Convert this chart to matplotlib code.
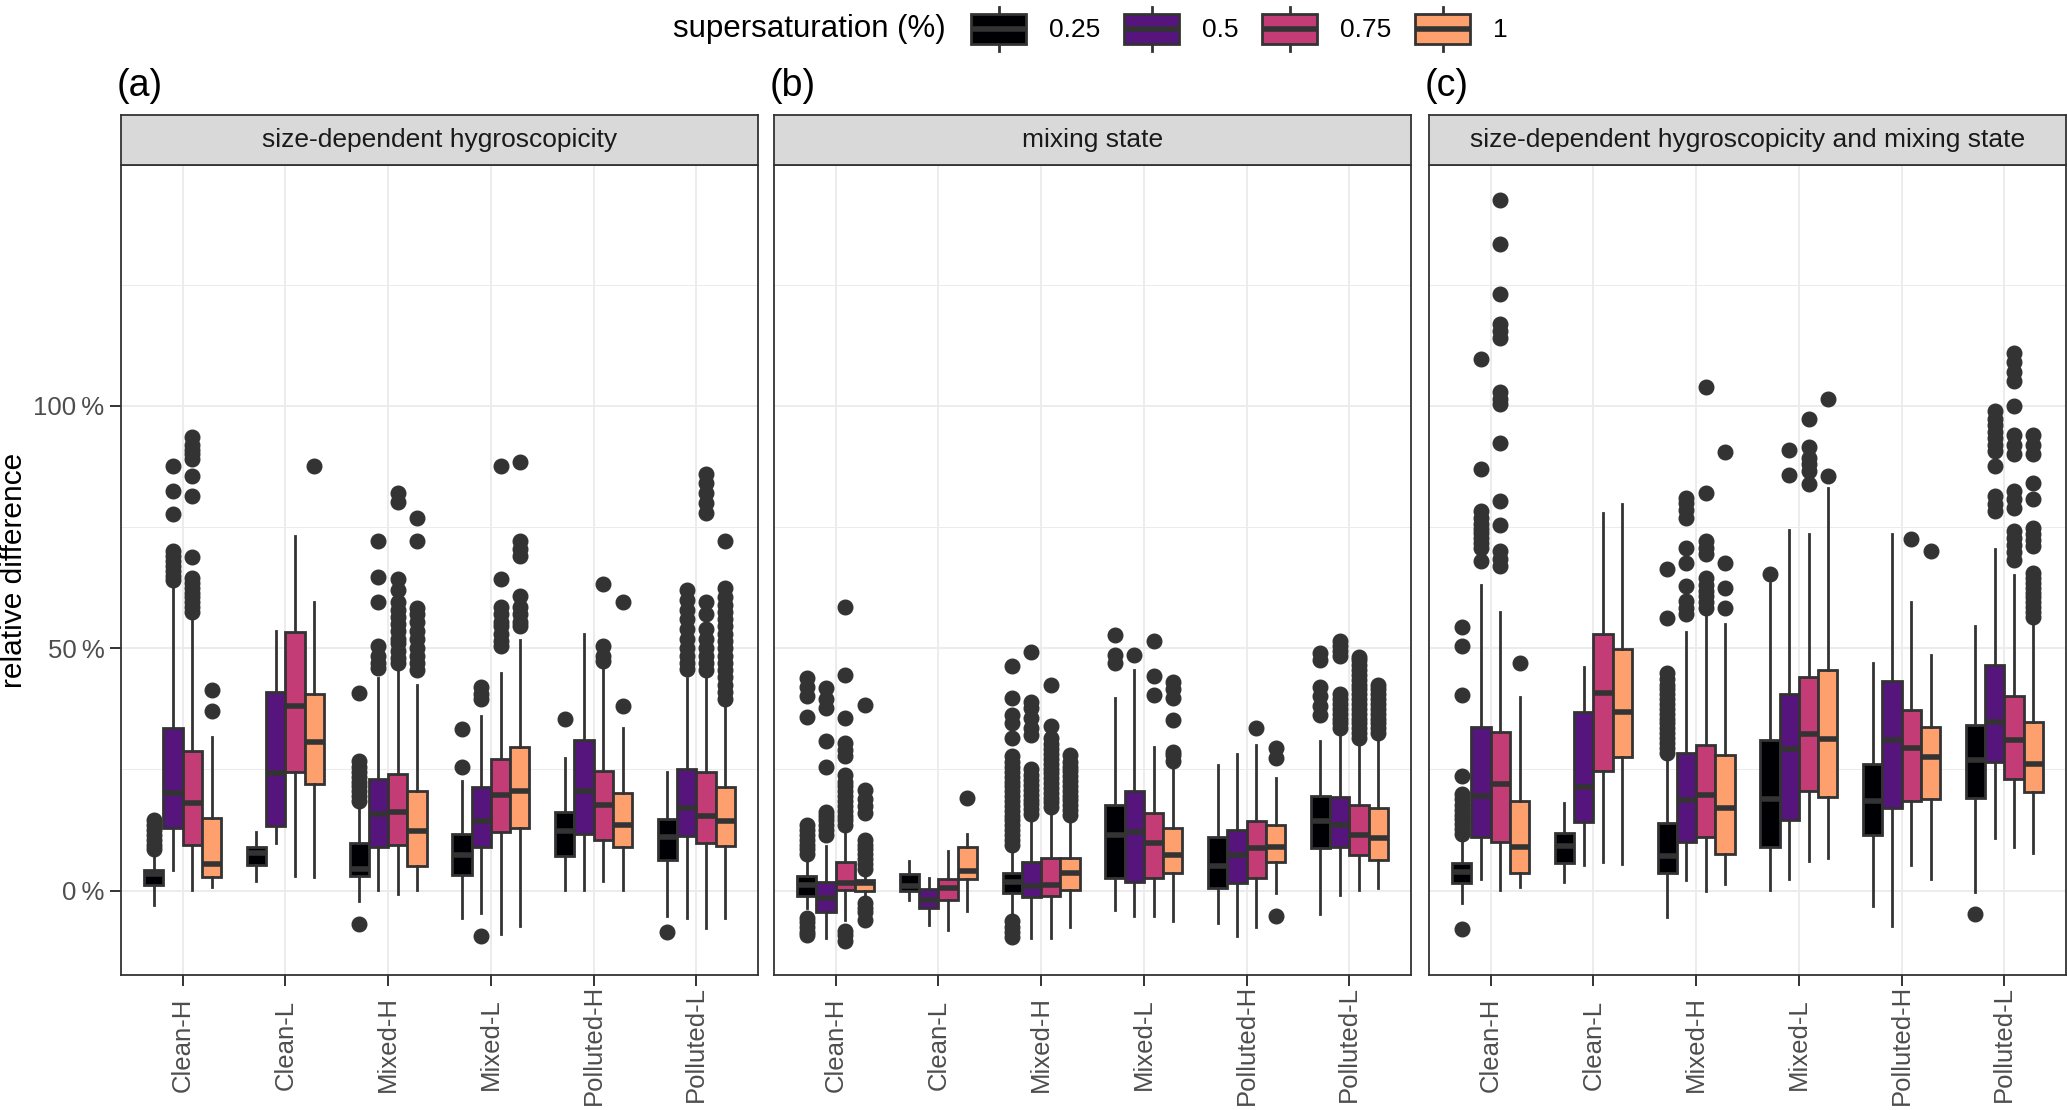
import matplotlib
matplotlib.use("Agg")
import matplotlib.pyplot as plt
from matplotlib.patches import Rectangle, Patch
from matplotlib.lines import Line2D
from matplotlib.legend_handler import HandlerBase

plt.rcParams['font.family'] = ['Liberation Sans', 'DejaVu Sans']

# categories and fill levels
categories = ['Clean-H', 'Clean-L', 'Mixed-H', 'Mixed-L', 'Polluted-H', 'Polluted-L']
supersat = ['0.25', '0.5', '0.75', '1']
colors = ['#000004', '#56157D', '#C43C75', '#FEA06D']
panel_titles = ['size-dependent hygroscopicity', 'mixing state',
                'size-dependent hygroscopicity and mixing state']
panel_tags = ['(a)', '(b)', '(c)']

# box statistics (%), rows = categories, columns = supersaturation
# ---- (a) size-dependent hygroscopicity
a_lo = [[-3.0, 4.3, 0.2, 0.8], [1.9, 9.8, 3.1, 2.8], [-2.2, 0.2, -0.6, 0.2],
        [-5.7, -4.7, -8.9, -7.3], [0.2, 0.2, 1.9, 0.2], [-5.2, -5.7, -7.7, -5.7]]
a_q1 = [[1.1, 12.9, 9.4, 2.8], [5.3, 13.4, 24.4, 22.0], [3.1, 9.0, 9.4, 5.0],
        [3.3, 9.0, 12.0, 12.9], [7.2, 11.6, 10.4, 9.0], [6.3, 11.2, 9.8, 9.2]]
a_med = [[3.5, 20.2, 18.0, 5.5], [7.8, 24.2, 38.1, 30.7], [4.5, 15.9, 16.3, 12.4],
         [7.4, 14.3, 19.8, 20.6], [12.4, 20.6, 17.6, 13.5], [11.0, 17.1, 15.5, 14.3]]
a_q3 = [[4.3, 33.6, 28.9, 14.9], [9.0, 40.9, 53.3, 40.5], [9.8, 23.1, 24.0, 20.5],
        [11.6, 21.4, 27.1, 29.7], [16.3, 31.0, 24.7, 20.2], [14.7, 25.0, 24.4, 21.3]]
a_hi = [[7.5, 63.5, 56.9, 31.7], [12.0, 53.5, 73.2, 59.6], [17.1, 43.9, 46.2, 42.5],
        [22.6, 36.0, 45.0, 51.7], [27.3, 52.9, 46.2, 33.6], [24.4, 43.9, 44.6, 38.1]]
a_out = [
    [[8.5, 9.5, 10.5, 11.5, 12.5, 13.5, 14.5],
     [64, 65, 66, 67, 68, 69, 70, 77.7, 82.4, 87.7],
     [57.5, 58.5, 59.5, 60.5, 61.5, 62.5, 63.5, 64.5, 68.8, 81.4, 85.6, 89, 90, 91, 92, 93.5],
     [37.0, 41.3]],
    [[], [], [], [87.6]],
    [[18.5, 19.5, 20.5, 21.5, 22.5, 23.5, 24.5, 25.5, 26.8, 40.7, -6.9],
     [46, 47, 48.5, 50.5, 59.6, 64.7, 72.2],
     [47, 48, 49.5, 51, 52, 53.5, 55, 56.5, 58, 59.5, 62, 64.3, 80.1, 82.0],
     [45.5, 47, 48.5, 50, 52, 53.5, 55.5, 57, 58.4, 72.2, 76.9]],
    [[25.5, 33.4],
     [39.5, 40.5, 42.1, -9.4],
     [50.5, 51.5, 53, 54.5, 55.5, 57, 58.5, 64.3, 87.7],
     [54.5, 55.5, 57, 58.5, 60.8, 69, 70.5, 72.2, 88.5]],
    [[35.4], [], [47.4, 48.5, 50.5, 63.3], [38.1, 59.6]],
    [[-8.5],
     [45.8, 47, 48.5, 50, 52, 54, 56, 58, 60, 62],
     [45.5, 47, 48.5, 50, 52, 54, 57, 59.6, 78, 80, 82, 84, 86],
     [39.5, 41, 42.5, 44, 45.5, 47, 48.5, 50, 51.5, 53, 54.5, 56, 57.5, 59, 60.5, 62.4, 72.2]],
]

# ---- (b) mixing state
b_lo = [[-3.6, -9.8, -6.0, -1.2], [-1.9, -7.1, -8.2, -4.1], [-5.3, -9.8, -9.8, -7.6],
        [-3.9, -5.3, -5.3, -6.3], [-6.7, -9.4, -7.4, -0.5], [-4.9, -0.8, 0.2, 0.5]]
b_q1 = [[-1.0, -4.4, 0.2, -0.1], [0.0, -3.6, -1.9, 2.5], [-0.5, -1.4, -1.2, 0.2],
        [2.7, 1.8, 2.6, 3.6], [0.5, 1.6, 2.7, 5.9], [8.9, 9.1, 7.4, 6.4]]
b_med = [[1.2, -1.5, 1.6, 1.6], [0.9, -1.9, 0.5, 4.0], [1.8, 0.9, 1.2, 3.6],
         [11.5, 12.2, 9.8, 7.4], [5.0, 7.4, 8.8, 9.1], [14.3, 13.6, 11.5, 10.9]]
b_q3 = [[3.0, 1.8, 5.9, 2.1], [3.4, 0.3, 2.5, 9.1], [3.6, 5.9, 6.7, 6.7],
        [17.7, 20.6, 16.1, 12.9], [11.0, 12.6, 14.3, 13.6], [19.6, 19.4, 17.7, 17.0]]
b_hi = [[6.4, 9.3, 12.5, 3.5], [6.2, 2.7, 8.2, 11.7], [9.1, 15.3, 16.7, 15.1],
        [39.7, 45.5, 29.7, 26.3], [26.0, 28.2, 30.0, 23.2], [30.8, 33.2, 31.1, 31.8]]
b_out = [
    [[7.5, 8.5, 9.5, 10.5, 11.5, 12.5, 13.5, 35.9, 40.1, 42.1, 43.8, -5.6, -6.5, -7.5, -8.5, -9.2],
     [11.5, 12.5, 13.5, 14.5, 15.5, 16.2, 25.6, 30.8, 37.6, 39.5, 41.8],
     [13.6, 14.5, 15.5, 16.5, 17.5, 18.5, 19.5, 20.5, 21.5, 22.5, 23.9, 27.7, 29, 30.4,
      35.6, 44.5, 58.6, -8.4, -9.2, -10.4],
     [4.5, 5.5, 6.5, 7.5, 8.5, 9.5, 10.5, 16.0, 17.5, 19.0, 20.8, 38.3, -2.5, -3.5, -4.5, -6.0]],
    [[], [], [], [19.1]],
    [[9.5, 10.5, 11.5, 12.5, 13.5, 14.5, 15.5, 16.5, 17.5, 18.5, 19.5, 20.5, 21.5, 22.5,
      23.5, 24.5, 25.5, 26.5, 27.8, 31.5, 34.6, 36.3, 39.7, 46.4, -6.3, -7.5, -8.5, -9.5],
     [15.8, 16.8, 17.8, 18.8, 19.8, 20.8, 21.8, 22.8, 23.8, 25.0, 32.2, 33.5, 35.6, 37.6,
      39.0, 49.3],
     [17.2, 18.2, 19.2, 20.2, 21.2, 22.2, 23.2, 24.2, 25.2, 26.2, 27.2, 28.2, 29.2, 30.2,
      31.5, 33.9, 42.5],
     [15.6, 16.6, 17.6, 18.6, 19.6, 20.6, 21.6, 22.6, 23.6, 24.6, 25.6, 26.6, 28.0]],
    [[46.9, 48.6, 52.8], [48.6], [40.4, 44.2, 51.5], [26.8, 28.0, 28.7, 35.2, 39.7, 41.5, 43.1]],
    [[], [], [33.5], [27.3, 29.4, -5.3]],
    [[36.3, 38.0, 40.1, 42.1, 47.6, 49.0],
     [33.5, 34.5, 35.5, 36.5, 37.5, 38.5, 39.5, 40.5, 48.5, 49.5, 50.5, 51.5],
     [31.5, 32.5, 33.5, 34.5, 35.5, 36.5, 37.5, 38.5, 39.5, 40.5, 41.5, 42.5, 43.5, 44.5,
      45.5, 46.5, 47.5, 48.3],
     [32.5, 33.5, 34.5, 35.5, 36.5, 37.5, 38.5, 39.5, 40.5, 41.5, 42.5]],
]

# ---- (c) size-dependent hygroscopicity and mixing state
c_lo = [[-2.6, 2.4, 0.1, 0.8], [1.7, 5.2, 6.0, 5.5], [-5.4, 2.2, 0.0, 1.4],
        [0.1, 2.4, 6.2, 6.7], [-3.2, -7.2, 5.3, 2.4], [-0.2, 10.9, 9.1, 7.8]]
c_q1 = [[1.5, 11.1, 10.0, 3.6], [5.8, 14.1, 24.6, 27.6], [3.6, 10.0, 11.1, 7.6],
        [9.1, 14.6, 20.5, 19.4], [11.5, 17.0, 18.4, 19.0], [19.2, 26.6, 23.0, 20.3]]
c_med = [[3.8, 19.6, 22.1, 9.1], [9.3, 21.4, 40.7, 36.9], [7.2, 18.7, 19.7, 17.0],
         [18.9, 29.3, 32.4, 31.3], [18.5, 31.1, 29.5, 27.6], [26.9, 34.8, 31.1, 26.1]]
c_q3 = [[5.8, 33.7, 32.8, 18.4], [11.8, 36.9, 52.9, 49.8], [13.9, 28.5, 30.0, 28.0],
        [31.1, 40.5, 44.0, 45.5], [26.2, 43.3, 37.2, 33.8], [34.1, 46.6, 40.2, 34.7]]
c_hi = [[10.9, 63.1, 57.5, 40.0], [18.0, 46.2, 78.0, 79.7], [27.5, 53.4, 57.6, 55.1],
        [63.5, 74.5, 73.6, 83.1], [46.9, 73.5, 59.5, 48.6], [54.6, 70.4, 65.1, 55.8]]
c_out = [
    [[11.7, 12.7, 13.7, 14.7, 15.7, 16.7, 17.7, 18.9, 19.9, 23.7, 40.4, 50.5, 54.3, -7.9],
     [68.0, 70.7, 71.7, 72.7, 73.7, 74.7, 75.7, 76.9, 78.4, 86.9, 109.6],
     [67.0, 68.5, 70.0, 75.5, 80.4, 92.4, 100.3, 101.5, 102.8, 114.0, 115.5, 116.9, 123.1,
      133.4, 142.4],
     [47.0]],
    [[], [], [], []],
    [[28.5, 29.5, 30.5, 31.5, 32.5, 33.5, 34.5, 35.5, 36.5, 37.5, 38.5, 39.5, 40.5, 41.5,
      42.5, 43.7, 45.0, 56.3, 66.3],
     [57.0, 58.3, 59.7, 62.8, 67.6, 70.7, 76.9, 78.5, 80.0, 81.1],
     [58.3, 59.5, 60.7, 61.9, 63.1, 64.5, 69.4, 70.7, 72.1, 82.1, 103.8],
     [58.3, 62.5, 67.6, 90.4]],
    [[65.4], [85.7, 91.0], [83.8, 86.6, 88.0, 89.3, 91.5, 97.2], [85.5, 101.4]],
    [[], [], [72.5], [70.0]],
    [[-4.8],
     [78.3, 79.8, 81.4, 87.6, 90.7, 92.0, 93.4, 94.7, 96.0, 97.4, 99.0],
     [68.3, 69.8, 71.3, 72.8, 74.2, 79.0, 80.7, 82.4, 90.0, 92.0, 94.1, 100.0, 105.2,
      107.0, 109.0, 111.0],
     [56.5, 57.5, 58.5, 59.5, 60.5, 61.5, 62.5, 63.5, 64.5, 65.5, 71.0, 72.3, 73.6, 74.9,
      80.7, 84.2, 90.0, 92.0, 94.1]],
]

panels = [
    (a_lo, a_q1, a_med, a_q3, a_hi, a_out),
    (b_lo, b_q1, b_med, b_q3, b_hi, b_out),
    (c_lo, c_q1, c_med, c_q3, c_hi, c_out),
]

W, H = 2067, 1110
fig = plt.figure(figsize=(W / 100, H / 100), dpi=100)

panel_left = [121, 774, 1429]
panel_w = 637
panel_top, panel_bot = 165, 975
strip_top = 115

dodge = [-0.28125, -0.09375, 0.09375, 0.28125]
box_w = 0.1875
line_c = '#333333'
lw_box = 2.0

for p, (lo, q1, med, q3, hi, out) in enumerate(panels):
    ax = fig.add_axes([panel_left[p] / W, 1 - panel_bot / H, panel_w / W,
                       (panel_bot - panel_top) / H])
    for j in range(4):
        stats = []
        pos = []
        for i in range(len(categories)):
            stats.append(dict(whislo=lo[i][j], q1=q1[i][j], med=med[i][j], q3=q3[i][j],
                              whishi=hi[i][j], fliers=out[i][j]))
            pos.append(i + 1 + dodge[j])
        res = ax.bxp(stats, positions=pos, widths=box_w, patch_artist=True,
                     showcaps=False, manage_ticks=False,
                     boxprops=dict(facecolor=colors[j], edgecolor=line_c, linewidth=lw_box),
                     medianprops=dict(color=line_c, linewidth=2 * lw_box, solid_capstyle='butt'),
                     whiskerprops=dict(color=line_c, linewidth=lw_box),
                     flierprops=dict(marker='o', markersize=10.5, markerfacecolor=line_c,
                                     markeredgecolor=line_c, linestyle='none'))
        for el in res['boxes'] + res['whiskers'] + res['medians']:
            el.set_zorder(3)
        for el in res['fliers']:
            el.set_zorder(4)

    ax.set_xlim(0.4, 6.6)
    ax.set_ylim(-17.4, 149.7)
    ax.set_xticks(range(1, 7))
    ax.set_xticklabels(categories, rotation=90, fontsize=18.5, color='#4D4D4D')
    for t in ax.get_xticklabels():
        t.set_va('center')
    ax.tick_params(axis='x', length=8, width=1.4, color=line_c, pad=42)
    ax.set_yticks([0, 50, 100])
    ax.set_yticks([25, 75, 125], minor=True)
    if p == 0:
        ax.set_yticklabels(['0\u2009%', '50\u2009%', '100\u2009%'], fontsize=18.5,
                           color='#4D4D4D')
        ax.tick_params(axis='y', length=8, width=1.4, color=line_c, pad=4)
        ax.set_ylabel('relative difference', fontsize=21.5, color='black')
        ax.yaxis.set_label_coords(-0.146, 0.5)
    else:
        ax.tick_params(axis='y', length=0, labelleft=False)
    ax.tick_params(axis='y', which='minor', length=0)
    ax.grid(True, which='major', color='#EBEBEB', linewidth=1.3, zorder=0)
    ax.grid(True, which='minor', axis='y', color='#EBEBEB', linewidth=0.7, zorder=0)
    ax.set_axisbelow(True)
    for s in ax.spines.values():
        s.set_color(line_c)
        s.set_linewidth(1.3)

    # facet strip
    sax = fig.add_axes([panel_left[p] / W, 1 - panel_top / H, panel_w / W,
                        (panel_top - strip_top) / H])
    sax.set_facecolor('#D9D9D9')
    sax.set_xticks([])
    sax.set_yticks([])
    for s in sax.spines.values():
        s.set_color(line_c)
        s.set_linewidth(1.3)
    sax.text(0.5, 0.5, panel_titles[p], ha='center', va='center', fontsize=19,
             color='#1A1A1A', transform=sax.transAxes)

    fig.text((panel_left[p] - 4) / W, 1 - 86 / H, panel_tags[p], ha='left', va='center',
             fontsize=27)


class BoxKeyHandler(HandlerBase):
    def create_artists(self, legend, orig_handle, xdescent, ydescent, width, height,
                       fontsize, trans):
        x0, y0 = -xdescent, -ydescent
        bh = height * 0.66
        by = y0 + (height - bh) / 2
        xm = x0 + width / 2
        arts = [
            Line2D([xm, xm], [y0, by], color=line_c, lw=lw_box, transform=trans),
            Line2D([xm, xm], [by + bh, y0 + height], color=line_c, lw=lw_box, transform=trans),
            Rectangle((x0, by), width, bh, facecolor=orig_handle.get_facecolor(),
                      edgecolor=line_c, lw=lw_box, transform=trans),
            Line2D([x0, x0 + width], [by + bh / 2] * 2, color=line_c, lw=2 * lw_box,
                   solid_capstyle='butt', transform=trans),
        ]
        return arts


handles = [Patch(facecolor=c) for c in colors]
fig.legend(handles, supersat, loc='center left', bbox_to_anchor=(971 / W, 1 - 29 / H),
           ncol=4, frameon=False, fontsize=19, handlelength=2.1, handleheight=2.2,
           handletextpad=0.85, columnspacing=0.9, borderpad=0, borderaxespad=0,
           handler_map={Patch: BoxKeyHandler()})
fig.text(946 / W, 1 - 29 / H, 'supersaturation (%)', ha='right', va='center',
         fontsize=22.5)

fig.savefig('out.png', dpi=100)
